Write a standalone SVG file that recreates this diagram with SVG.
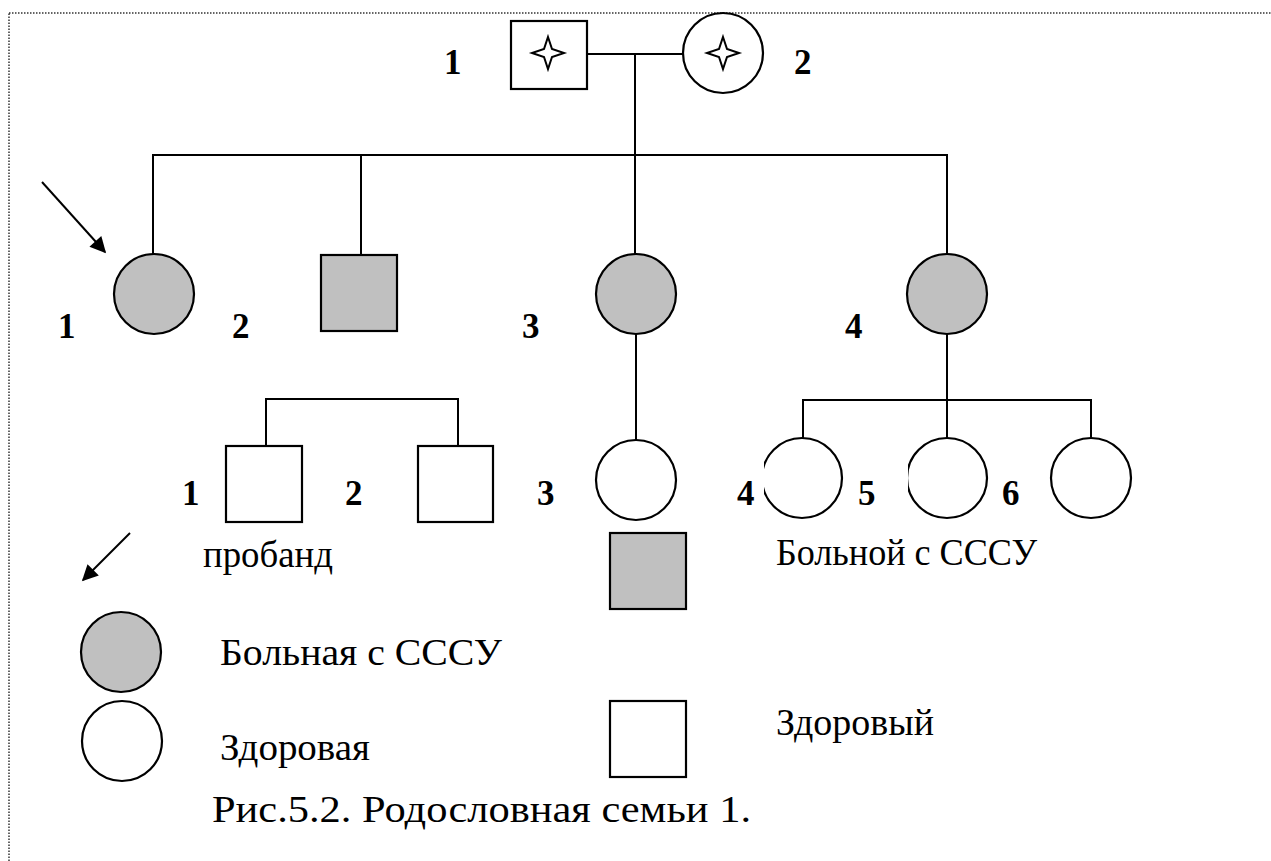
<svg xmlns="http://www.w3.org/2000/svg" width="1271" height="861" viewBox="0 0 1271 861">
<style>
.ln{stroke:#000;stroke-width:2;fill:none}
.sh{stroke:#000;stroke-width:2.2;fill:#fff}
.af{stroke:#000;stroke-width:2.2;fill:#c0c0c0}
.num{font-family:"Liberation Serif",serif;font-weight:bold;font-size:35px;fill:#000}
.txt{font-family:"Liberation Serif",serif;font-size:37px;fill:#000}
.star{fill:#fff;stroke:#000;stroke-width:2}
</style>
<defs>
<marker id="ah" viewBox="0 0 10 10" refX="9" refY="5" markerWidth="9" markerHeight="8" markerUnits="strokeWidth" orient="auto"><path d="M0,0 L10,5 L0,10 z" fill="#000"/></marker>
<clipPath id="cl1"><rect x="764" y="430" width="100" height="100"/></clipPath>
<clipPath id="cl2"><rect x="908" y="430" width="100" height="100"/></clipPath>
<path id="st" d="M0,-16 L4,-4 L16,0 L4,4 L0,16 L-4,4 L-16,0 L-4,-4 Z"/>
</defs>
<rect x="9" y="13" width="1300" height="900" fill="none" stroke="#333" stroke-width="1.5" stroke-dasharray="1.5,1.5"/>
<g id="connectors">
<line class="ln" x1="587" y1="54" x2="683" y2="54"/>
<line class="ln" x1="635" y1="54" x2="635" y2="255"/>
<polyline class="ln" points="153,255 153,155 947,155 947,255"/>
<line class="ln" x1="361" y1="155" x2="361" y2="255"/>
<polyline class="ln" points="266,446 266,399 458,399 458,446"/>
<line class="ln" x1="636" y1="334" x2="636" y2="440"/>
<polyline class="ln" points="803,440 803,400 1091,400 1091,440"/>
<line class="ln" x1="947" y1="334" x2="947" y2="440"/>
<line class="ln" stroke-width="2.5" x1="42" y1="182" x2="105" y2="252" marker-end="url(#ah)"/>
<line class="ln" stroke-width="2.5" x1="130" y1="533" x2="83" y2="580" marker-end="url(#ah)"/>
</g>
<g id="I-1"><rect class="sh" x="511" y="21" width="76" height="68"/><use href="#st" class="star" x="548" y="53"/><text class="num" x="444" y="74">1</text></g>
<g id="I-2"><circle class="sh" cx="723" cy="53" r="40"/><use href="#st" class="star" x="723" y="53"/><text class="num" x="794" y="74">2</text></g>
<g id="II-1"><circle class="af" cx="154" cy="294" r="40"/><text class="num" x="58" y="338">1</text></g>
<g id="II-2"><rect class="af" x="321" y="255" width="76" height="76"/><text class="num" x="232" y="338">2</text></g>
<g id="II-3"><circle class="af" cx="636" cy="294" r="40"/><text class="num" x="522" y="338">3</text></g>
<g id="II-4"><circle class="af" cx="947" cy="294" r="40"/><text class="num" x="845" y="338">4</text></g>
<g id="III-1"><rect class="sh" x="226" y="446" width="76" height="76"/><text class="num" x="182" y="505">1</text></g>
<g id="III-2"><rect class="sh" x="418" y="446" width="75" height="76"/><text class="num" x="345" y="505">2</text></g>
<g id="III-3"><circle class="sh" cx="636" cy="480" r="40"/><text class="num" x="537" y="505">3</text></g>
<g id="III-4"><circle class="sh" cx="802" cy="478" r="40" clip-path="url(#cl1)"/><text class="num" x="737" y="505">4</text></g>
<g id="III-5"><circle class="sh" cx="947" cy="478" r="40" clip-path="url(#cl2)"/><text class="num" x="858" y="505">5</text></g>
<g id="III-6"><circle class="sh" cx="1091" cy="478" r="40"/><text class="num" x="1002" y="505">6</text></g>
<g id="legend">
<text class="txt" x="203" y="567" textLength="130" lengthAdjust="spacingAndGlyphs">пробанд</text>
<rect class="af" x="610" y="533" width="76" height="76"/>
<text class="txt" x="776" y="565" textLength="261" lengthAdjust="spacingAndGlyphs">Больной с СССУ</text>
<circle class="af" cx="121" cy="652" r="40"/>
<text class="txt" x="220" y="665" textLength="282" lengthAdjust="spacingAndGlyphs">Больная с СССУ</text>
<circle class="sh" cx="122" cy="741" r="40"/>
<text class="txt" x="220" y="760" textLength="150" lengthAdjust="spacingAndGlyphs">Здоровая</text>
<rect class="sh" x="610" y="701" width="76" height="76"/>
<text class="txt" x="776" y="735" textLength="158" lengthAdjust="spacingAndGlyphs">Здоровый</text>
<text class="txt" x="212" y="822" textLength="539" lengthAdjust="spacingAndGlyphs">Рис.5.2. Родословная семьи 1.</text>
</g>
</svg>
